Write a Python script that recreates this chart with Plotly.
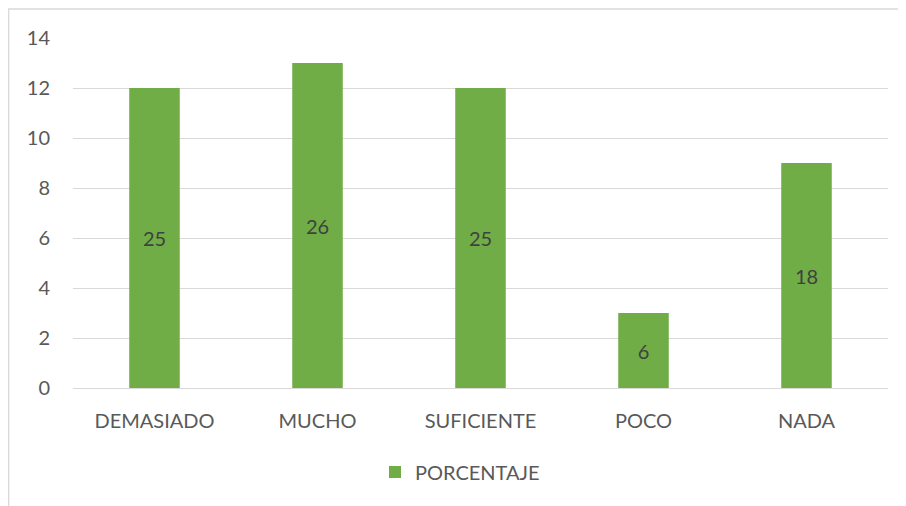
import plotly.graph_objects as go

categories = ["DEMASIADO", "MUCHO", "SUFICIENTE", "POCO", "NADA"]
values = [12, 13, 12, 3, 9]
labels = ["25", "26", "25", "6", "18"]
y_ticks = [0, 2, 4, 6, 8, 10, 12, 14]

W, H = 898, 498
ml, mr, mt, mb = 65, 18, 30, 118
pw, ph = W - ml - mr, H - mt - mb

fig = go.Figure()
fig.add_trace(go.Bar(
    x=categories, y=values, name="PORCENTAJE",
    text=labels, textposition="inside", insidetextanchor="middle",
    textfont=dict(family="Lato", size=20, color="#404040"),
    textangle=0,
    marker=dict(color="#70ad47", line=dict(width=0)),
    showlegend=True,
))

fig.update_layout(
    width=W, height=H,
    margin=dict(l=ml, r=mr, t=mt, b=mb),
    paper_bgcolor="white", plot_bgcolor="white",
    bargap=0.69,
    font=dict(family="Lato", size=20, color="#595959"),
    xaxis=dict(showgrid=False, showline=False, ticks="", ticklabelstandoff=19,
               tickfont=dict(size=20, color="#595959")),
    yaxis=dict(range=[0, 14], tickvals=y_ticks, showgrid=True, gridcolor="#d9d9d9",
               gridwidth=1.3, zeroline=True, zerolinecolor="#d9d9d9", zerolinewidth=1.3,
               ticks="", ticklabelstandoff=22, tickfont=dict(size=20, color="#595959")),
    legend=dict(orientation="h", x=(367 - ml) / pw, xanchor="left", y=-0.24, yanchor="middle",
                font=dict(size=20, color="#595959"), itemwidth=30),
    shapes=[dict(type="rect", xref="paper", yref="paper",
                 x0=(0.7 - ml) / pw, x1=(W + 20 - ml) / pw,
                 y0=-(mb + 20) / ph, y1=1 + (mt - 1) / ph,
                 line=dict(color="#d9d9d9", width=1.3), fillcolor="rgba(0,0,0,0)")],
)

fig.write_html("out.html")
